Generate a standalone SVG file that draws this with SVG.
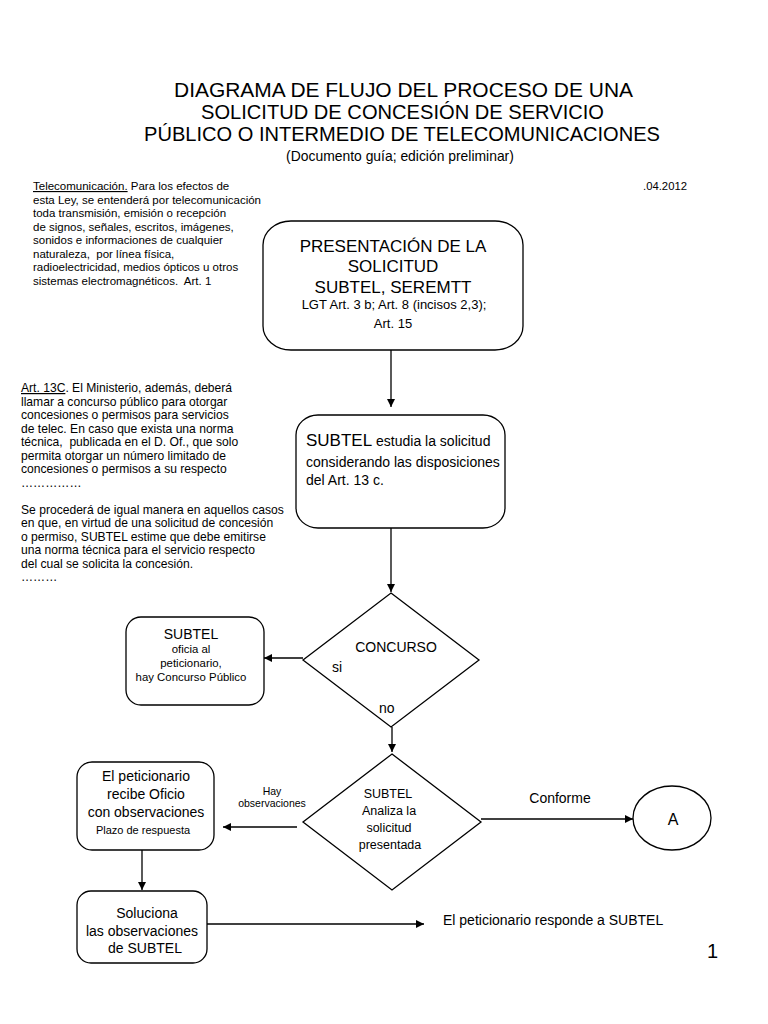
<svg xmlns="http://www.w3.org/2000/svg" width="768" height="1024" viewBox="0 0 768 1024">
<defs>
<marker id="ah" markerWidth="10" markerHeight="10" refX="8" refY="4.5" orient="auto" markerUnits="userSpaceOnUse">
<path d="M0,0.5 L8,4.5 L0,8.5 Z" fill="#000"/>
</marker>
<style>
text{font-family:"Liberation Sans",Arial,sans-serif;fill:#000;white-space:pre}
.shape{fill:#fff;stroke:#000;stroke-width:1.3}
.conn{stroke:#000;stroke-width:1.3;fill:none;marker-end:url(#ah)}
.title{font-size:20.5px}
.note1{font-size:11.5px}
.note2{font-size:12.1px}
.c{text-anchor:middle}
</style>
</defs>
<rect width="768" height="1024" fill="#fff"/>

<g id="title">
<text class="title" x="174" y="97" textLength="459" lengthAdjust="spacingAndGlyphs">DIAGRAMA DE FLUJO DEL PROCESO DE UNA</text>
<text class="title" x="201" y="119" textLength="403" lengthAdjust="spacingAndGlyphs">SOLICITUD DE CONCESIÓN DE SERVICIO</text>
<text class="title" x="144" y="141" textLength="516" lengthAdjust="spacingAndGlyphs">PÚBLICO O INTERMEDIO DE TELECOMUNICACIONES</text>
<text x="400" y="161" font-size="13.9" text-anchor="middle">(Documento guía; edición preliminar)</text>
<text x="643" y="190" font-size="11.3">.04.2012</text>
</g>

<g id="note-telecom" class="note1">
<text x="33" y="190"><tspan text-decoration="underline">Telecomunicación.</tspan> Para los efectos de</text>
<text x="33" y="203.5">esta Ley, se entenderá por telecomunicación</text>
<text x="33" y="217">toda transmisión, emisión o recepción</text>
<text x="33" y="230.5">de signos, señales, escritos, imágenes,</text>
<text x="33" y="244">sonidos e informaciones de cualquier</text>
<text x="33" y="257.5">naturaleza,  por línea física,</text>
<text x="33" y="271">radioelectricidad, medios ópticos u otros</text>
<text x="33" y="284.5">sistemas electromagnéticos.  Art. 1</text>
</g>

<g id="note-art13c" class="note2">
<text x="21" y="392"><tspan text-decoration="underline">Art. 13C</tspan>. El Ministerio, además, deberá</text>
<text x="21" y="405.5">llamar a concurso público para otorgar</text>
<text x="21" y="419">concesiones o permisos para servicios</text>
<text x="21" y="432.5">de telec. En caso que exista una norma</text>
<text x="21" y="446">técnica,  publicada en el D. Of., que solo</text>
<text x="21" y="459.5">permita otorgar un número limitado de</text>
<text x="21" y="473">concesiones o permisos a su respecto</text>
<text x="21" y="486.5">……………</text>
<text x="21" y="513.5">Se procederá de igual manera en aquellos casos</text>
<text x="21" y="527">en que, en virtud de una solicitud de concesión</text>
<text x="21" y="540.5">o permiso, SUBTEL estime que debe emitirse</text>
<text x="21" y="554">una norma técnica para el servicio respecto</text>
<text x="21" y="567.5">del cual se solicita la concesión.</text>
<text x="21" y="581">………</text>
</g>

<g id="connectors">
<line class="conn" x1="391" y1="350" x2="391" y2="407"/>
<line class="conn" x1="391" y1="528" x2="391" y2="592"/>
<line class="conn" x1="303" y1="658" x2="264" y2="658"/>
<line class="conn" x1="392" y1="727" x2="392" y2="752"/>
<line class="conn" x1="297" y1="827" x2="223" y2="827"/>
<line class="conn" x1="481" y1="819" x2="633" y2="819"/>
<line class="conn" x1="142" y1="850" x2="142" y2="890"/>
<line class="conn" x1="207" y1="924" x2="424" y2="924"/>
<text x="272" y="795" font-size="10.5" text-anchor="middle">Hay</text>
<text x="272" y="807" font-size="10.5" text-anchor="middle">observaciones</text>
<text x="560" y="803" font-size="14" text-anchor="middle">Conforme</text>
<text x="443" y="925" font-size="14">El peticionario responde a SUBTEL</text>
</g>

<g id="presentacion">
<rect class="shape" x="263" y="221" width="260" height="129" rx="28" ry="24"/>
<text class="c" x="393" y="252" font-size="17">PRESENTACIÓN DE LA</text>
<text class="c" x="393" y="272" font-size="17">SOLICITUD</text>
<text class="c" x="393" y="293" font-size="17">SUBTEL, SEREMTT</text>
<text class="c" x="394" y="309" font-size="13">LGT Art. 3 b; Art. 8 (incisos 2,3);</text>
<text class="c" x="393" y="328" font-size="13">Art. 15</text>
</g>

<g id="estudia">
<rect class="shape" x="296" y="415" width="209" height="113" rx="22" ry="20"/>
<text x="306" y="446" font-size="17">SUBTEL<tspan font-size="14"> estudia la solicitud</tspan></text>
<text x="306" y="467" font-size="14">considerando las disposiciones</text>
<text x="306" y="485" font-size="14">del Art. 13 c.</text>
</g>

<g id="concurso">
<polygon class="shape" points="391,593 479,660 391,727 303,660"/>
<text class="c" x="396" y="652" font-size="14">CONCURSO</text>
<text x="332" y="672" font-size="14">si</text>
<text x="379" y="713" font-size="14">no</text>
</g>

<g id="oficia">
<rect class="shape" x="126" y="617" width="138" height="88" rx="15" ry="15"/>
<text class="c" x="191" y="639" font-size="14">SUBTEL</text>
<text class="c" x="191" y="653" font-size="11.4">oficia al</text>
<text class="c" x="191" y="667" font-size="11.4">peticionario,</text>
<text class="c" x="191" y="681" font-size="11.4">hay Concurso Público</text>
</g>

<g id="analiza">
<polygon class="shape" points="392,754 481,822 392,890 303,822"/>
<text class="c" x="388" y="798" font-size="12.5">SUBTEL</text>
<text class="c" x="389" y="815" font-size="12.5">Analiza la</text>
<text class="c" x="389" y="832" font-size="12.5">solicitud</text>
<text class="c" x="390" y="849" font-size="12.5">presentada</text>
</g>

<g id="recibe">
<rect class="shape" x="77" y="762" width="137" height="88" rx="15" ry="15"/>
<text class="c" x="146" y="781" font-size="14">El peticionario</text>
<text class="c" x="146" y="799" font-size="14">recibe Oficio</text>
<text class="c" x="146" y="817" font-size="14">con observaciones</text>
<text class="c" x="143" y="834" font-size="11">Plazo de respuesta</text>
</g>

<g id="soluciona">
<rect class="shape" x="77" y="891" width="130" height="72" rx="14" ry="14"/>
<text class="c" x="147" y="918" font-size="14">Soluciona</text>
<text class="c" x="142" y="936" font-size="14">las observaciones</text>
<text class="c" x="145" y="953" font-size="14">de SUBTEL</text>
</g>

<g id="A">
<ellipse class="shape" cx="672" cy="818" rx="39" ry="32"/>
<text class="c" x="673" y="825" font-size="16">A</text>
</g>

<text x="707" y="958" font-size="20">1</text>
</svg>
